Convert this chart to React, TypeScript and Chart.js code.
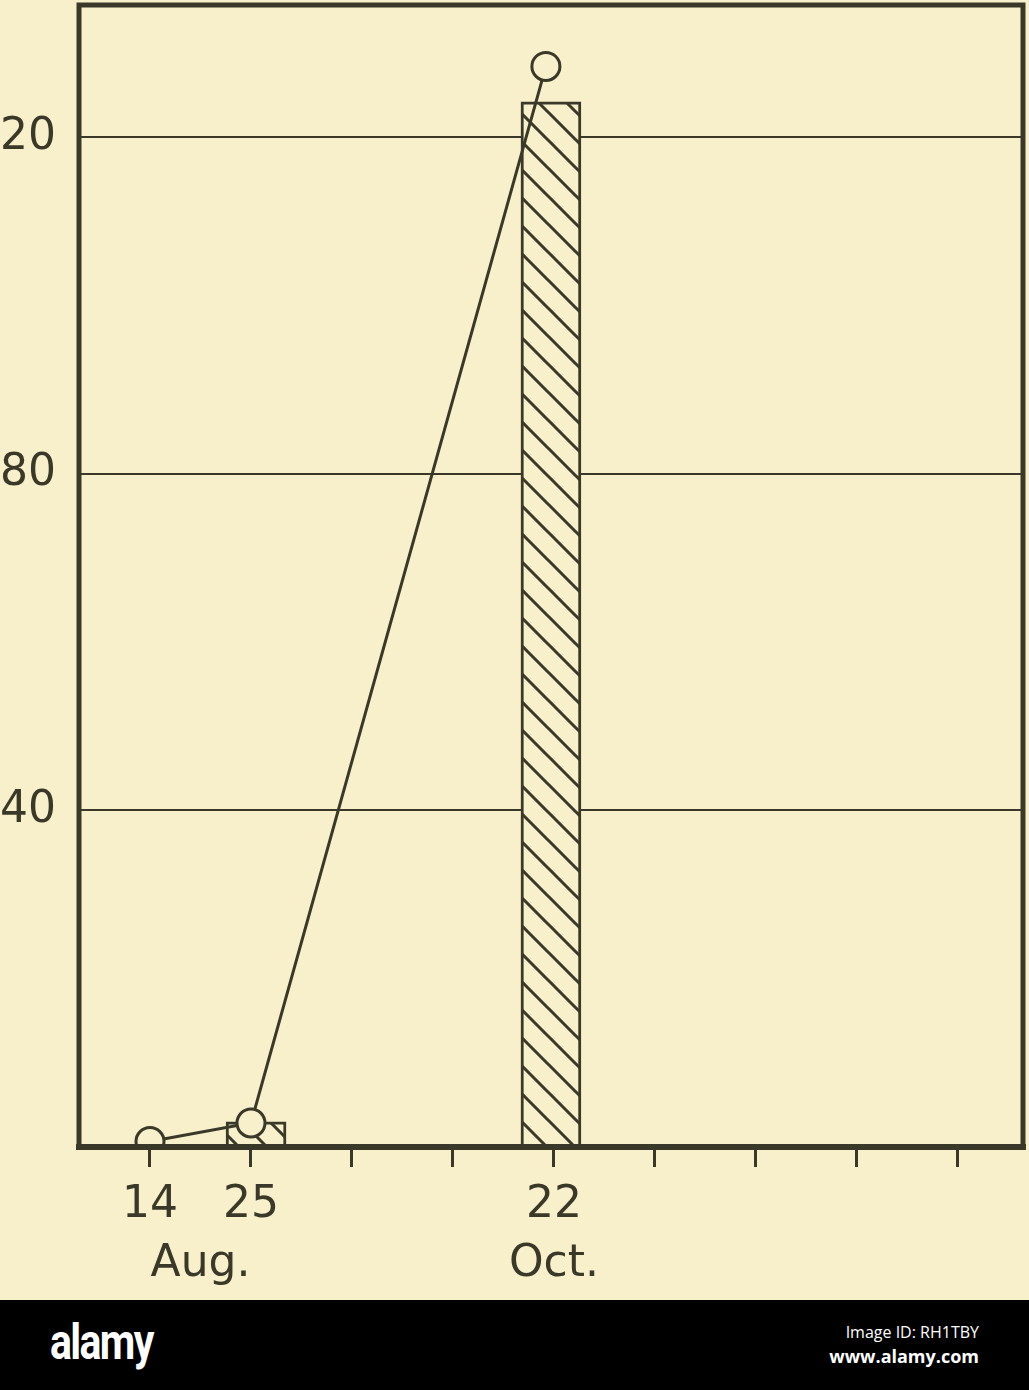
import React, { useEffect, useRef } from "react";
import { Chart, registerables } from "chart.js";

Chart.register(...registerables);

// ---- data ----
const xTickValues = [0, 1, 2, 3, 4, 5, 6, 7, 8];
const dayLabels = ["14", "25", "", "", "22", "", "", "", ""];
const monthTickValues = [0.5, 4];
const monthLabels = ["Aug.", "Oct."];
const yTickValues = [40, 80, 120];

const lineX = [0, 1, 3.92];
const lineValues = [0.65, 2.85, 128.4];
const barX = [1.05, 3.97];
const barValues = [3.0, 124.2];

const CREAM = "#f7f0cb";
const INK = "#3a3828";
const FONT = '"DejaVu Sans", "Liberation Sans", sans-serif';

function makeHatch(ctx: CanvasRenderingContext2D) {
  const s = 28;
  const c = document.createElement("canvas");
  c.width = s;
  c.height = s;
  const g = c.getContext("2d")!;
  g.fillStyle = CREAM;
  g.fillRect(0, 0, s, s);
  g.strokeStyle = INK;
  g.lineWidth = 3;
  g.beginPath();
  for (const x0 of [-s, 0, s]) {
    g.moveTo(x0 - 2, -2);
    g.lineTo(x0 + s + 2, s + 2);
  }
  g.stroke();
  return ctx.createPattern(c, "repeat");
}

const framePlugin = {
  id: "frame",
  afterDraw(chart: any) {
    const { ctx, chartArea } = chart;
    const { left, right, top, bottom } = chartArea;
    ctx.save();
    ctx.strokeStyle = INK;
    ctx.lineCap = "square";
    ctx.lineWidth = 5;
    ctx.beginPath();
    ctx.moveTo(left, bottom);
    ctx.lineTo(left, top);
    ctx.lineTo(right, top);
    ctx.lineTo(right, bottom);
    ctx.stroke();
    ctx.lineWidth = 6;
    ctx.beginPath();
    ctx.moveTo(left, bottom);
    ctx.lineTo(right, bottom);
    ctx.stroke();
    ctx.restore();
  },
};

function ChartView() {
  const ref = useRef<HTMLCanvasElement | null>(null);
  useEffect(() => {
    const canvas = ref.current!;
    const ctx = canvas.getContext("2d")!;
    const hatch = makeHatch(ctx);
    const allXTicks = [...xTickValues, ...monthTickValues.filter((v) => !xTickValues.includes(v))].sort(
      (a, b) => a - b
    );
    const labelFor = (v: number) => {
      const di = xTickValues.indexOf(v);
      const mi = monthTickValues.indexOf(v);
      const day = di >= 0 ? dayLabels[di] : "";
      if (mi >= 0) return [day, monthLabels[mi]];
      return day;
    };
    const chart = new Chart(ctx, {
      type: "bar",
      data: {
        datasets: [
          {
            type: "line",
            data: lineX.map((x, i) => ({ x, y: lineValues[i] })),
            borderColor: INK,
            borderWidth: 3,
            pointRadius: 14,
            pointBorderWidth: 3,
            pointBackgroundColor: CREAM,
            pointBorderColor: INK,
            tension: 0,
            clip: 0,
            order: 0,
          } as any,
          {
            type: "bar",
            data: barX.map((x, i) => ({ x, y: barValues[i] })),
            backgroundColor: hatch as any,
            borderColor: INK,
            borderWidth: 3,
            barThickness: 60,
            order: 1,
          } as any,
        ],
      },
      options: {
        responsive: false,
        animation: false,
        layout: { autoPadding: false, padding: { top: 5, right: 6, left: 0, bottom: 0 } },
        plugins: { legend: { display: false }, tooltip: { enabled: false } },
        scales: {
          x: {
            type: "linear",
            offset: false,
            min: -0.703,
            max: 8.644,
            afterBuildTicks: (scale: any) => {
              scale.ticks = allXTicks.map((v) => ({ value: v }));
            },
            afterFit: (scale: any) => {
              scale.height = 153;
              scale.paddingLeft = 0;
              scale.paddingRight = 0;
              scale.paddingTop = 0;
              scale.paddingBottom = 0;
            },
            ticks: {
              autoSkip: false,
              maxRotation: 0,
              minRotation: 0,
              color: INK,
              padding: 10,
              font: { family: FONT, size: 44, lineHeight: 1.32 },
              callback: (v: any) => labelFor(Number(v)),
            },
            grid: {
              offset: false,
              drawOnChartArea: false,
              drawTicks: true,
              tickLength: 20,
              tickWidth: 3,
              tickColor: (c: any) =>
                c.tick && !xTickValues.includes(c.tick.value) ? "rgba(0,0,0,0)" : INK,
            },
            border: { display: false },
          },
          y: {
            type: "linear",
            min: 0,
            max: 135.7,
            afterBuildTicks: (scale: any) => {
              scale.ticks = yTickValues.map((v) => ({ value: v }));
            },
            afterFit: (scale: any) => {
              scale.width = 119;
              scale.paddingLeft = 0;
              scale.paddingRight = 0;
              scale.paddingTop = 0;
              scale.paddingBottom = 0;
            },
            ticks: {
              color: INK,
              padding: 23,
              font: { family: FONT, size: 44 },
            },
            grid: { color: INK, lineWidth: 2, drawTicks: false },
            border: { display: false },
          },
        },
      },
      plugins: [framePlugin],
    });
    return () => chart.destroy();
  }, []);
  return (
    <canvas
      ref={ref}
      width={1069}
      height={1300}
      style={{ position: "absolute", left: -40, top: 0, width: 1069, height: 1300 }}
    />
  );
}

export default function App() {
  return (
    <div
      style={{
        position: "absolute",
        left: 0,
        top: 0,
        width: 1029,
        height: 1390,
        overflow: "hidden",
        background: "#000",
      }}
    >
      <div
        style={{
          position: "absolute",
          left: 0,
          top: 0,
          width: 1029,
          height: 1300,
          overflow: "hidden",
          background: CREAM,
        }}
      >
        <ChartView />
      </div>
      <div
        style={{
          position: "absolute",
          left: 50,
          top: 1314,
          color: "#fff",
          fontFamily: '"Roboto", "Liberation Sans", sans-serif',
          fontWeight: 700,
          fontSize: 50,
          letterSpacing: -2,
          transform: "scaleX(0.82)",
          transformOrigin: "left top",
          lineHeight: "56px",
        }}
      >
        alamy
      </div>
      <div
        style={{
          position: "absolute",
          right: 50,
          top: 1320,
          color: "#fff",
          fontFamily: '"Open Sans", sans-serif',
          textAlign: "right",
        }}
      >
        <div style={{ fontSize: 16, lineHeight: "24px" }}>Image ID: RH1TBY</div>
        <div style={{ fontSize: 18, fontWeight: 700, lineHeight: "24px" }}>www.alamy.com</div>
      </div>
    </div>
  );
}
